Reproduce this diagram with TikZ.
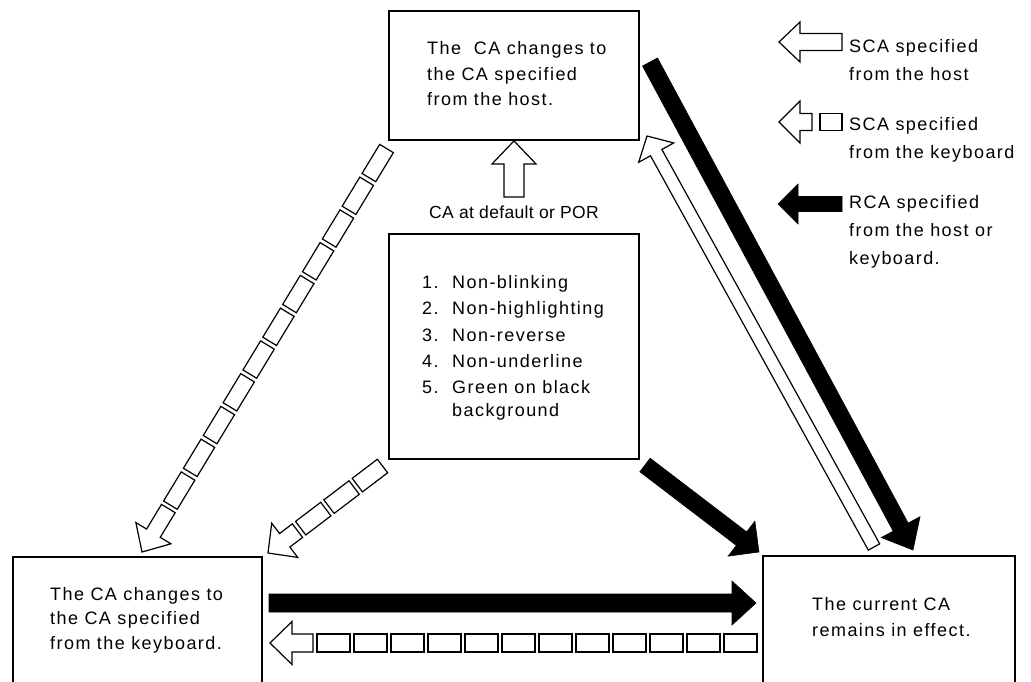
\documentclass[tikz,border=0pt]{standalone}
\usepackage{fontspec}
\setmainfont{Liberation Sans}
\newfontfamily\lab[LetterSpace=8]{Liberation Sans}
\newfontfamily\labn[LetterSpace=2]{Liberation Sans}
\usetikzlibrary{calc}

% block arrow: [style]{start}{tip}{shaft width}{head width}{head length}
\newcommand\blockarrow[6][]{%
  \coordinate (hb) at ($(#3)!#6!(#2)$);
  \draw[#1] ($(#2)!#4/2!90:(#3)$) -- ($(hb)!#4/2!90:(#3)$) -- ($(hb)!#5/2!90:(#3)$)
    -- (#3) -- ($(hb)!#5/2!-90:(#3)$) -- ($(hb)!#4/2!-90:(#3)$) -- ($(#2)!#4/2!-90:(#3)$) -- cycle;
}
% segmented arrow: {start}{tip}{count}{seg len}{step}{width}{stub start}{head width}{head length}
\newcommand\segarrow[9]{%
  \foreach \i in {1,...,#3}{%
    \pgfmathsetlengthmacro\da{(\i-1)*#5}%
    \pgfmathsetlengthmacro\db{(\i-1)*#5+#4}%
    \coordinate (sa) at ($(#1)!\da!(#2)$);
    \coordinate (sb) at ($(#1)!\db!(#2)$);
    \draw[openarrow] ($(sa)!#6/2!90:(#2)$) -- ($(sb)!#6/2!90:(#2)$) -- ($(sb)!#6/2!-90:(#2)$) -- ($(sa)!#6/2!-90:(#2)$) -- cycle;
  }
  \coordinate (ss) at ($(#1)!#7!(#2)$);
  \blockarrow[openarrow]{ss}{#2}{#6}{#8}{#9}
}

\tikzset{
  box/.style={draw, line width=1.9pt, inner sep=0pt},
  txt/.style={font=\lab\fontsize{18}{25.5}\selectfont, align=left, inner sep=0pt, anchor=base west},
  legtxt/.style={txt, font=\lab\fontsize{18}{28}\selectfont},
  openarrow/.style={draw=black, fill=white, line width=1.2pt, line join=miter},
  solidarrow/.style={draw=black, fill=black, line width=0.6pt, line join=miter},
}

\begin{document}
\begin{tikzpicture}[x=1pt, y=-1pt]
\useasboundingbox (0,0) rectangle (1031,682);
\fill[white] (0,0) rectangle (1031,682);
\clip (0,0) rectangle (1031,682);

% boxes
\node[box, minimum width=250pt, minimum height=129pt] (topbox) at (514,75.5) {};
\node[box, minimum width=250pt, minimum height=225pt] (midbox) at (514,346.5) {};
\node[box, minimum width=249pt, minimum height=140pt] (kbbox) at (137.5,627) {};
\node[box, minimum width=252pt, minimum height=140pt] (curbox) at (889,626) {};

% texts (anchor = baseline of the last line)
\node[txt] (toptxt) at (427,106) {The~~CA changes to\\the CA specified\\from the host.};
\node[txt, font=\lab\fontsize{18}{24.5}\selectfont] (kbtxt) at (50,649) {The CA changes to\\the CA specified\\from the keyboard.};
\node[txt] (curtxt) at (812,636) {The current CA\\remains in effect.};
\node[txt, anchor=base, font=\labn\fontsize{17.5}{24}\selectfont] (deftxt) at (514,218) {CA at default or POR};
\node[txt, font=\lab\fontsize{18}{26.3}\selectfont] (listtxt) at (422,416) {\makebox[30pt][l]{1.}Non-blinking\\
  \makebox[30pt][l]{2.}Non-highlighting\\
  \makebox[30pt][l]{3.}Non-reverse\\
  \makebox[30pt][l]{4.}Non-underline\\
  \makebox[30pt][l]{5.}Green on black\\[-4pt]
  \makebox[30pt][l]{}background};

% legend texts
\node[legtxt] (leg1) at (849,81) {SCA specified\\from the host};
\node[legtxt] (leg2) at (849,158) {SCA specified\\from the keyboard};
\node[legtxt] (leg3) at (849,264) {RCA specified\\from the host or\\keyboard.};

% legend arrows
\coordinate (l1s) at (842,42); \coordinate (l1t) at (779,42);
\blockarrow[openarrow]{l1s}{l1t}{17pt}{40pt}{21pt}
\coordinate (l2s) at (842,122); \coordinate (l2t) at (779,122);
\segarrow{l2s}{l2t}{1}{22}{30}{17pt}{30pt}{42pt}{21pt}
\coordinate (l3s) at (842,204); \coordinate (l3t) at (778,204);
\blockarrow[solidarrow]{l3s}{l3t}{15pt}{40pt}{20pt}

% up arrow from default to top box
\coordinate (upS) at (514,197);
\blockarrow[openarrow]{upS}{topbox.south}{20pt}{44pt}{23pt}

% right black diagonal: top box -> current
\coordinate (rbS) at (650,62); \coordinate (rbT) at (913,550);
\blockarrow[solidarrow]{rbS}{rbT}{17pt}{44pt}{26pt}

% white diagonal: current -> top box
\coordinate (wS) at (874,547); \coordinate (wT) at (647,136);
\blockarrow[openarrow]{wS}{wT}{13pt}{40pt}{19pt}

% black diagonal: mid box -> current
\coordinate (cbS) at (645,465); \coordinate (cbT) at (759,552);
\blockarrow[solidarrow]{cbS}{cbT}{17pt}{44pt}{22pt}

% black horizontal: keyboard -> current
\coordinate (hS) at (269,603); \coordinate (hT) at (756,603);
\blockarrow[solidarrow]{hS}{hT}{18pt}{44pt}{24pt}

% segmented horizontal: current -> keyboard
\coordinate (sgS) at (757,643); \coordinate (sgT) at (270,643);
\segarrow{sgS}{sgT}{12}{33}{37}{18pt}{444pt}{43pt}{22pt}

% long segmented diagonal: top box -> keyboard
\coordinate (ldS) at (386.5,148.5); \coordinate (ldT) at (142,552);
\segarrow{ldS}{ldT}{11}{34}{38.3}{16pt}{421pt}{41pt}{22pt}

% short segmented diagonal: mid box -> keyboard
\coordinate (sdS) at (382.5,466); \coordinate (sdT) at (268,553);
\segarrow{sdS}{sdT}{3}{31.6}{35.6}{17pt}{106.8pt}{43pt}{21pt}
\end{tikzpicture}
\end{document}
